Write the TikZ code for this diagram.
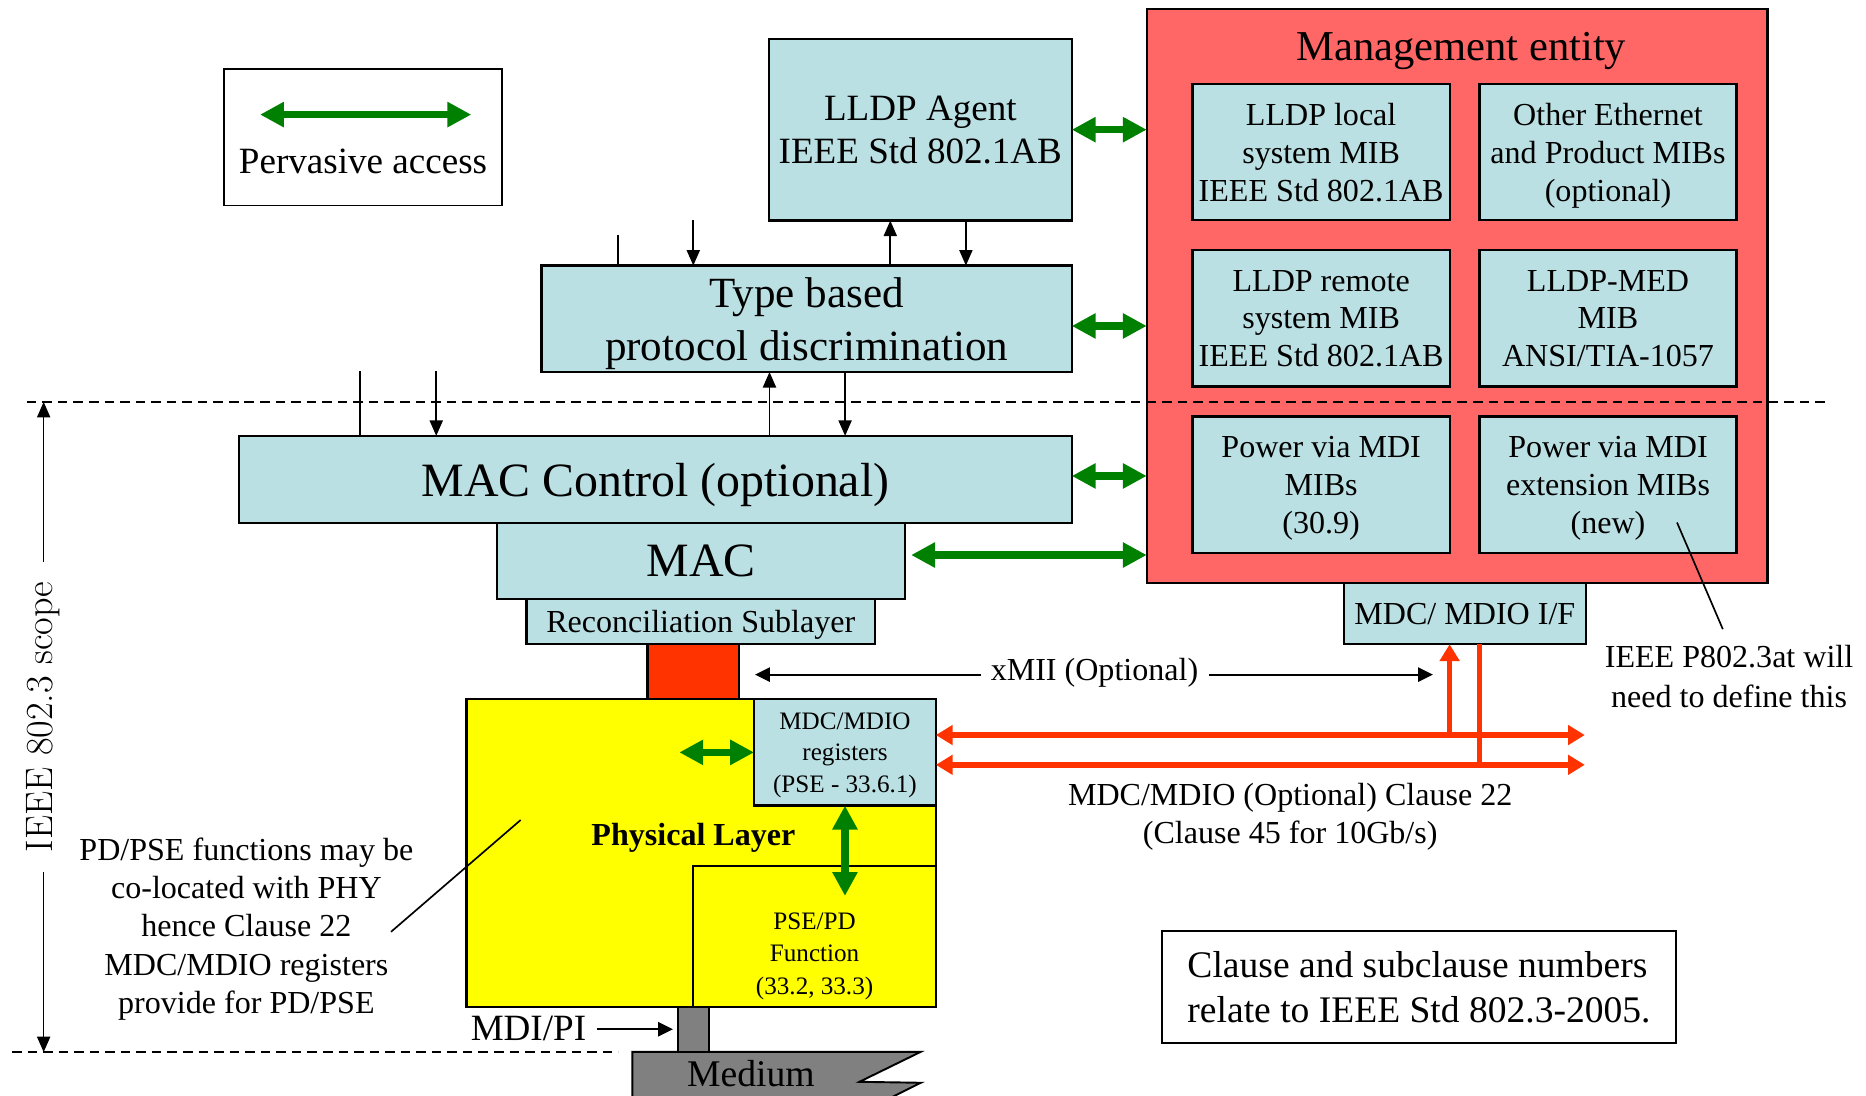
\documentclass[tikz,border=0pt]{standalone}
\usepackage{fontspec}
\newfontfamily\tnr{Liberation Serif}
\usetikzlibrary{arrows.meta,calc}

\definecolor{boxblue}{HTML}{BBE0E3}
\definecolor{mgmtred}{HTML}{FF6666}
\definecolor{busred}{HTML}{FF3300}
\definecolor{pagreen}{HTML}{008000}
\definecolor{phyyellow}{HTML}{FFFF00}
\definecolor{medgray}{HTML}{808080}

\newcommand{\txtsize}[2]{\tnr\fontsize{#1}{#2}\selectfont}

\begin{document}
\begin{tikzpicture}[x = 1pt, y = -1pt,
        blockbox/.style = {draw, line width = 2pt, fill = boxblue, inner sep = 0pt, outer sep = 0pt, anchor = north west},
        plainbox/.style = {draw, line width = 1.6pt, inner sep = 0pt, outer sep = 0pt, anchor = north west},
        oneline/.style = {text depth = 0pt},
        multiline/.style = {align = center, text depth = 0pt},
        plaintext/.style = {inner sep = 0pt, outer sep = 0pt},
        pervasive/.style = {draw = pagreen, line width = 6pt, {Triangle[length = 20pt, width = 20pt]}-{Triangle[length = 20pt, width = 20pt]}},
        busarrow/.style = {draw = busred, line width = 4.5pt, -{Triangle[length = 14pt, width = 16pt]}},
        busdouble/.style = {draw = busred, line width = 4.5pt, {Triangle[length = 14pt, width = 16pt]}-{Triangle[length = 14pt, width = 16pt]}},
        thinarrow/.style = {line width = 1.4pt, -{Triangle[length = 13pt, width = 11pt]}},
        xmiiarrow/.style = {line width = 1.5pt, -{Triangle[length = 12.5pt, width = 12pt]}},
        scopedash/.style = {line width = 1.5pt, dash pattern = on 8pt off 5pt}]
    \useasboundingbox (0,0) rectangle (1560,916);

    \node[plainbox, line width = 2pt, fill = mgmtred, minimum width = 518.9pt, minimum height = 480.1pt] (mgmt) at (958.7,7.3) {};
    \node[plaintext, oneline, font = \txtsize{35.6}{42}] (mgmttitle) at (1221.6,39) {Management entity};
    \foreach \mib/\x/\y/\txt in {
            llocal/997/70.1/{LLDP local\\system MIB\\IEEE Std 802.1AB},
            othermib/1236.8/70.1/{Other Ethernet\\and Product MIBs\\(optional)},
            lremote/997/209.2/{LLDP remote\\system MIB\\IEEE Std 802.1AB},
            medmib/1236.8/209.2/{LLDP-MED\\MIB\\ANSI/TIA-1057},
            pwrmib/997/348.3/{Power via MDI\\MIBs\\(30.9)},
            pwrext/1236.8/348.3/{Power via MDI\\extension MIBs\\(new)}}
        \node[blockbox, multiline, minimum width = 215pt, minimum height = 114pt, font = \txtsize{26.8}{31.7}] (\mib) at (\x,\y) {\txt};
    \node[blockbox, oneline, minimum width = 202.5pt, minimum height = 51.2pt, font = \txtsize{26.8}{32}] (mdcif) at (1123.4,487.4) {MDC/ MDIO I/F};

    \node[plainbox, minimum width = 231.8pt, minimum height = 114.2pt] (legend) at (187.6,57.6) {};
    \node[plaintext, oneline, font = \txtsize{31}{37}] (legendtext) at (303.5,134.5) {Pervasive access};

    \node[blockbox, multiline, minimum width = 253.2pt, minimum height = 152pt, font = \txtsize{31}{36.5}] (agent) at (642.8,32.4) {LLDP Agent\\IEEE Std 802.1AB};
    \node[blockbox, multiline, minimum width = 443.3pt, minimum height = 89pt, font = \txtsize{36}{44}] (tpd) at (452.7,222) {Type based\\protocol discrimination};
    \node[blockbox, oneline, minimum width = 696pt, minimum height = 73pt, font = \txtsize{40}{48}] (macctl) at (200,364.4) {MAC Control (optional)};
    \node[blockbox, oneline, minimum width = 341.3pt, minimum height = 63.2pt, font = \txtsize{40}{48}] (mac) at (415.4,437.4) {MAC};
    \node[blockbox, oneline, minimum width = 291pt, minimum height = 38pt, font = \txtsize{26.8}{32}] (rs) at (440.3,500.6) {Reconciliation Sublayer};
    \node[plainbox, line width = 2pt, fill = busred, minimum width = 76.5pt, minimum height = 46pt] (xmii) at (541.4,538.6) {};
    \node[plainbox, line width = 2pt, fill = phyyellow, minimum width = 392.4pt, minimum height = 257.1pt] (phy) at (390,584.5) {};
    \node[plaintext, oneline, font = \txtsize{26.8}{32}\bfseries] (phytext) at (579.7,697.5) {Physical Layer};
    \node[blockbox, multiline, minimum width = 152pt, minimum height = 89pt, font = \txtsize{21}{26.5}] (regs) at (630.4,584.5) {MDC/MDIO\\registers\\(PSE - 33.6.1)};
    \node[plainbox, line width = 1.4pt, fill = phyyellow, minimum width = 202.8pt, minimum height = 117.5pt] (pse) at (579.6,724.1) {};
    \node[plaintext, multiline, font = \txtsize{21}{27}] (psetext) at (681,797.1) {PSE/PD\\Function\\(33.2, 33.3)};

    \node[plainbox, align = left, text depth = 0pt, minimum width = 429.4pt, minimum height = 93.3pt, font = \txtsize{31.4}{38}] (note) at (971.6,778.4) {Clause and subclause numbers\\relate to IEEE Std 802.3-2005.};
    \node[plaintext, multiline, font = \txtsize{26.8}{32}] (annot) at (206,773.8) {PD/PSE functions may be\\co-located with PHY\\hence Clause 22\\MDC/MDIO registers\\provide for PD/PSE};
    \node[plaintext, multiline, font = \txtsize{26.8}{32}] (clauselbl) at (1078.6,679.8) {MDC/MDIO (Optional) Clause 22\\(Clause 45 for 10Gb/s)};
    \node[plaintext, multiline, font = \txtsize{26.8}{33.7}] (p8023at) at (1445.5,565.2) {IEEE P802.3at will\\need to define this};
    \node[plaintext, oneline, font = \txtsize{26.8}{32}] (xmiilbl) at (915,560) {xMII (Optional)};
    \node[plaintext, oneline, anchor = east, font = \txtsize{31}{37}] (mdilbl) at (490,859.7) {MDI/PI};
    \node[plaintext, rotate = 90, font = \fontsize{32}{38}\selectfont] (scopelbl) at (36.5,599.2) {IEEE 802.3 scope};

    \draw[line width = 1.6pt, fill = medgray] (528.7,879.3) -- (769.8,879.3) -- (718.5,904.4) -- (769.8,905.2) -- (720,930) -- (528.7,930) -- cycle;
    \node[plaintext, oneline, font = \txtsize{31.5}{38}] (mediumlbl) at (627.8,897.8) {Medium};
    \node[plainbox, fill = medgray, minimum width = 26.2pt, minimum height = 37.7pt] (mdi) at (566.6,841.6) {};

    \coordinate (paL) at (217.4,95.8);
    \coordinate (paR) at (394,95.8);
    \draw[pervasive] (paL) -- (paR);
    \draw[pervasive] (agent.east) -- (agent.east -| mgmt.west);
    \draw[pervasive] ($(tpd.east)+(0,6)$) -- ($(tpd.east -| mgmt.west)+(0,6)$);
    \draw[pervasive] ($(macctl.east)+(0,-3)$) -- ($(macctl.east -| mgmt.west)+(0,-3)$);
    \draw[pervasive] ($(mac.east)+(5,-5)$) -- ($(mac.east -| mgmt.west)+(0,-5)$);
    \coordinate (regsin) at (567.9,629);
    \draw[pervasive] (regsin) -- (regs.west);
    \coordinate (psein) at (706.4,749);
    \draw[pervasive] (regs.south) -- (psein);

    \coordinate (tapA) at (516.4,196.4);
    \coordinate (tapB) at (579.6,183.8);
    \coordinate (tapC) at (744.3,0);
    \coordinate (tapD) at (807.5,0);
    \coordinate (tapE) at (301,310.3);
    \coordinate (tapF) at (364.7,310.3);
    \coordinate (tapG) at (643.3,0);
    \coordinate (tapH) at (706.5,0);
    \draw[line width = 1.4pt] (tapA) -- (tapA |- tpd.north);
    \draw[thinarrow] (tapB) -- (tapB |- tpd.north);
    \draw[thinarrow] (tapC |- tpd.north) -- (tapC |- agent.south);
    \draw[thinarrow] (tapD |- agent.south) -- (tapD |- tpd.north);
    \draw[line width = 1.4pt] (tapE) -- (tapE |- macctl.north);
    \draw[thinarrow] (tapF) -- (tapF |- macctl.north);
    \draw[thinarrow] (tapG |- macctl.north) -- (tapG |- tpd.south);
    \draw[thinarrow] (tapH |- tpd.south) -- (tapH |- macctl.north);

    \coordinate (xmiiL) at (631.2,564);
    \coordinate (xmiiR) at (1198,564);
    \draw[xmiiarrow, shorten <= 8pt] (xmiilbl.west |- xmiiL) -- (xmiiL);
    \draw[xmiiarrow, shorten <= 9pt] (xmiilbl.east |- xmiiR) -- (xmiiR);
    \draw[xmiiarrow, shorten <= 9pt, shorten >= 4pt] (mdilbl.east |- mdi.west) -- (mdi.west);

    \coordinate (busA) at (1324.9,614.5);
    \coordinate (busB) at (1324.9,639.4);
    \coordinate (busup) at (1211.9,614.5);
    \coordinate (busdown) at (1236.8,639.4);
    \draw[busdouble] (regs.east |- busA) -- (busA);
    \draw[busdouble] (regs.east |- busB) -- (busB);
    \draw[busarrow] (busup) -- (busup |- mdcif.south);
    \draw[draw = busred, line width = 4.5pt] (busdown |- mdcif.south) -- (busdown);

    \coordinate (dashL) at (22.4,336);
    \coordinate (dashR) at (1527,336);
    \coordinate (lowdashL) at (10,879.6);
    \coordinate (lowdashR) at (517,879.6);
    \draw[scopedash] (dashL) -- (dashR);
    \draw[scopedash] (lowdashL) -- (lowdashR);
    \draw[thinarrow, shorten <= 16pt] (scopelbl.east) -- (scopelbl.east |- dashL);
    \draw[thinarrow, shorten <= 17pt] (scopelbl.west) -- (scopelbl.west |- lowdashL);

    \coordinate (annotend) at (326.9,779);
    \coordinate (phypoint) at (435.3,685.5);
    \coordinate (newpoint) at (1402,436.8);
    \coordinate (p8023end) at (1440.3,526);
    \draw[line width = 1.4pt] (annotend) -- (phypoint);
    \draw[line width = 1.4pt] (newpoint) -- (p8023end);
\end{tikzpicture}
\end{document}
